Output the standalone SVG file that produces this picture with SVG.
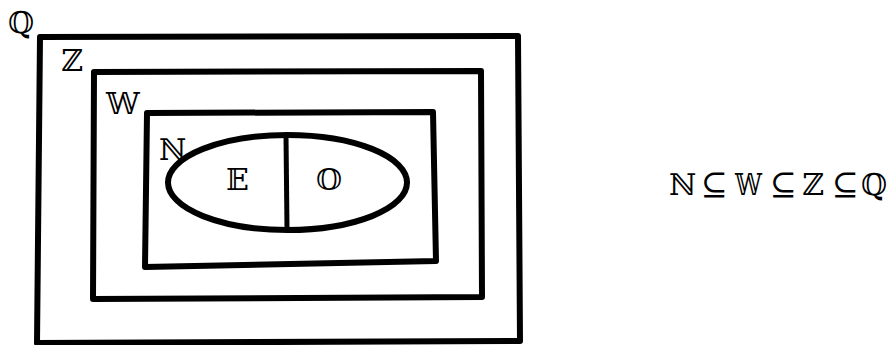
<svg xmlns="http://www.w3.org/2000/svg" width="888" height="345" viewBox="0 0 888 345">
<style>
.set{fill:none;stroke:#000;stroke-width:6;stroke-linejoin:round}
.lbl{font-family:"DejaVu Serif","DejaVu Sans",serif;font-size:30px;fill:#000}
.rel{font-family:"DejaVu Serif","DejaVu Sans",serif;font-size:32px;fill:#000}
</style>
<rect width="888" height="345" fill="#fff"/>
<g id="Q"><polygon class="set" points="40,37 518,36 520,341 37,343"/><text class="lbl" x="8" y="33">ℚ</text></g>
<g id="Z"><polygon class="set" points="94,72 481,71 482,297 93,299"/><text class="lbl" x="61" y="71">ℤ</text></g>
<g id="W"><polygon class="set" points="147,113 433,112 436,261 145,267"/><text class="lbl" x="106" y="114">𝕎</text></g>
<g id="N"><ellipse class="set" cx="287.5" cy="182.5" rx="119.5" ry="47.5"/><text class="lbl" x="159" y="160">ℕ</text></g>
<g id="E"><text class="lbl" x="226" y="190">𝔼</text></g>
<g id="O"><text class="lbl" x="316" y="190">𝕆</text></g>
<g id="connectors"><line x1="286" y1="136" x2="287" y2="229" stroke="#000" stroke-width="5"/></g>
<g id="formula">
<text class="lbl" x="669" y="195">ℕ</text>
<text class="rel" x="701" y="195">⊆</text>
<text class="lbl" x="735" y="195" textLength="27" lengthAdjust="spacingAndGlyphs">𝕎</text>
<text class="rel" x="770" y="195">⊆</text>
<text class="lbl" x="802" y="195">ℤ</text>
<text class="rel" x="832" y="195">⊆</text>
<text class="lbl" x="861" y="195">ℚ</text>
</g>
</svg>
